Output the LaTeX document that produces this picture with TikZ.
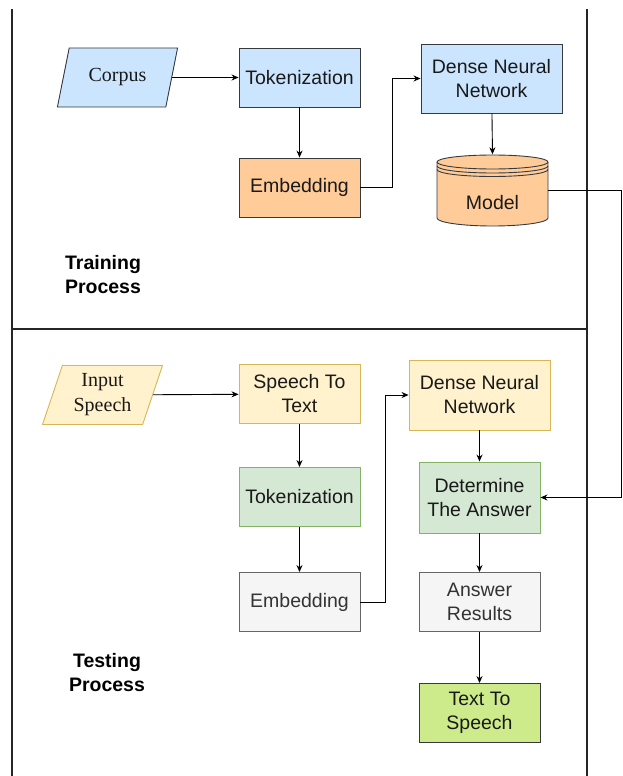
\documentclass[tikz,border=0pt]{standalone}
\usepackage{fontspec}
\setmainfont{Liberation Sans}
\newfontfamily\paraserif{Liberation Serif}
\usetikzlibrary{arrows.meta,shapes.geometric,positioning}
\definecolor{blueFill}{HTML}{CCE5FF}
\definecolor{orangeFill}{HTML}{FFCC99}
\definecolor{yellowFill}{HTML}{FFF2CC}
\definecolor{yellowLine}{HTML}{D6B656}
\definecolor{greenFill}{HTML}{D5E8D4}
\definecolor{greenLine}{HTML}{82B366}
\definecolor{grayFill}{HTML}{F5F5F5}
\definecolor{grayLine}{HTML}{666666}
\definecolor{limeFill}{HTML}{CDEB8B}
\definecolor{darkLine}{HTML}{36393D}

\begin{document}
\begin{tikzpicture}[x=1pt,y=-1pt,>={Stealth[length=7pt,width=6pt]},
  txt/.style={font=\fontsize{19.5}{24}\selectfont,text=black!90},
  box/.style={txt,draw=darkLine,line width=0.9pt,minimum width=121pt,minimum height=59pt,align=center,inner sep=2pt},
  para/.style={txt,trapezium,trapezium left angle=72,trapezium right angle=108,trapezium stretches=true,
    line width=0.9pt,minimum width=121pt,minimum height=59pt,align=center,font=\paraserif\fontsize{20}{25}\selectfont},
  title/.style={font=\bfseries\fontsize{19.5}{24}\selectfont,align=center},
  link/.style={->,line width=0.9pt,black},
  frame/.style={line width=1.3pt,black!85}]
  \useasboundingbox (0,0) rectangle (622,776);

  \draw[frame] (12,9) -- (12,776);
  \draw[frame] (587,9) -- (587,776);
  \draw[frame] (12,329) -- (587,329);

  \node[para,fill=blueFill,draw=darkLine] (corpus) at (117.5,77.5) {\raisebox{-2pt}{Corpus}};
  \node[box,fill=blueFill] (tok1) at (299.5,77.5) {Tokenization};
  \node[box,fill=orangeFill] (emb1) at (299.5,187.5) {Embedding};
  \node[box,fill=blueFill,minimum width=141pt,minimum height=69pt] (dnn1) at (491.5,78.5) {Dense Neural\\Network};

  \filldraw[fill=orangeFill,draw=darkLine,line width=0.9pt] (437,162) -- (437,218)
    arc[start angle=180,end angle=0,x radius=55.5,y radius=8] -- (548,162)
    arc[start angle=0,end angle=-180,x radius=55.5,y radius=7] -- cycle;
  \draw[darkLine,line width=0.9pt] (437,162) arc[start angle=180,end angle=0,x radius=55.5,y radius=7];
  \draw[darkLine,line width=0.9pt] (437,166) arc[start angle=180,end angle=0,x radius=55.5,y radius=7];
  \draw[darkLine,line width=0.9pt] (437,169.5) arc[start angle=180,end angle=0,x radius=55.5,y radius=7];
  \node[minimum width=111pt,minimum height=71pt,inner sep=0pt] (model) at (492.5,190) {};
  \node[txt] (modeltext) at (492.5,203) {Model};

  \node[title] (training) at (103,275) {Training\\Process};

  \node[para,fill=yellowFill,draw=yellowLine] (input) at (102.5,395) {Input\\Speech};
  \node[box,fill=yellowFill,draw=yellowLine] (stt) at (299.5,394) {Speech To\\Text};
  \node[box,fill=greenFill,draw=greenLine] (tok2) at (299.5,497) {Tokenization};
  \node[box,fill=grayFill,draw=grayLine,text=black!80] (emb2) at (299.5,602) {Embedding};
  \node[box,fill=yellowFill,draw=yellowLine,minimum width=141pt,minimum height=70pt] (dnn2) at (479.5,395) {Dense Neural\\Network};
  \node[box,fill=greenFill,draw=greenLine,minimum height=71pt] (det) at (479.5,497.5) {Determine\\The Answer};
  \node[box,fill=grayFill,draw=grayLine,text=black!80] (ans) at (479.5,602) {Answer\\Results};
  \node[box,fill=limeFill] (tts) at (479.5,713) {Text To\\Speech};

  \node[title] (testing) at (107,673) {Testing\\Process};

  \coordinate (bend) at (621,190);

  \draw[link] (corpus) -- (tok1);
  \draw[link] (tok1) -- (emb1);
  \draw[link] (emb1.east) -- ++(32,0) |- (dnn1.west);
  \draw[link] (dnn1) -- (model.north);
  \draw[link] (model.east) -- (bend) |- (det.east);

  \draw[link] (input) -- (stt);
  \draw[link] (stt) -- (tok2);
  \draw[link] (tok2) -- (emb2);
  \draw[link] (emb2.east) -- ++(25,0) |- (dnn2.west);
  \draw[link] (dnn2) -- (det);
  \draw[link] (det) -- (ans);
  \draw[link] (ans) -- (tts);
\end{tikzpicture}
\end{document}
